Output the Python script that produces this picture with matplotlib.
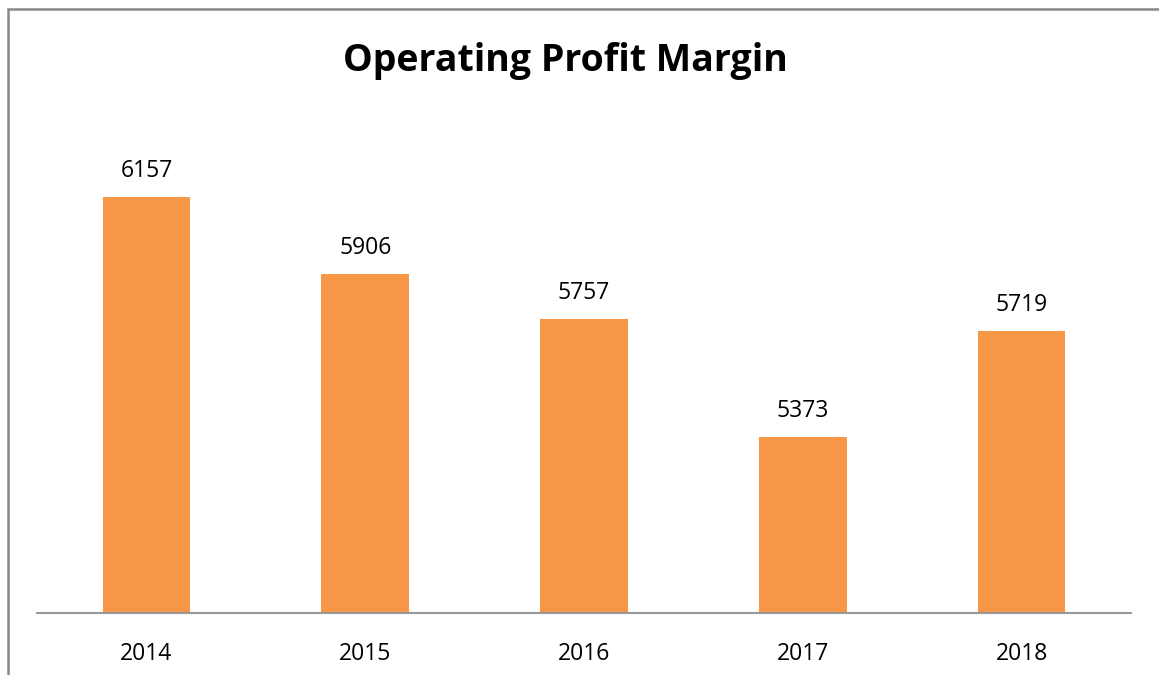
import matplotlib.pyplot as plt
from matplotlib.patches import Rectangle

# Données
years = ["2014", "2015", "2016", "2017", "2018"]
values = [6157, 5906, 5757, 5373, 5719]

plt.rcParams['font.family'] = ['Open Sans', 'DejaVu Sans']

fig = plt.figure(figsize=(11.59, 6.75), dpi=100)
ax = fig.add_axes([37 / 1159, 62 / 675, 1094 / 1159, 494 / 675])

# Barres
bars = ax.bar(range(len(years)), values, width=0.4, color="#F79646")
ax.set_ylim(4800, 6410)
ax.set_xlim(-0.5, len(years) - 0.5)

# Étiquettes de valeurs
for bar, v in zip(bars, values):
	ax.annotate(str(v), (bar.get_x() + bar.get_width() / 2, v),
		xytext=(0, 10), textcoords="offset points",
		ha="center", va="bottom", fontsize=16.5, color="black")

# Axes
ax.set_xticks(range(len(years)))
ax.set_xticklabels(years, fontsize=16.5)
ax.tick_params(axis="x", length=0, pad=21)
ax.set_yticks([])
for side in ["top", "right", "left"]:
	ax.spines[side].set_visible(False)
ax.spines["bottom"].set_color("#999999")
ax.spines["bottom"].set_linewidth(1.5)

# Titre
fig.text(565 / 1159, 1 - 61 / 675, "Operating Profit Margin",
	ha="center", va="center", fontsize=27, fontweight="bold")

# Cadre
fig.patches.append(Rectangle((8 / 1159, -0.1), 1.2, 1 - 9 / 675 + 0.1,
	transform=fig.transFigure, fill=False, edgecolor="#888888", linewidth=1.8))

fig.savefig("out.png", dpi=100)
